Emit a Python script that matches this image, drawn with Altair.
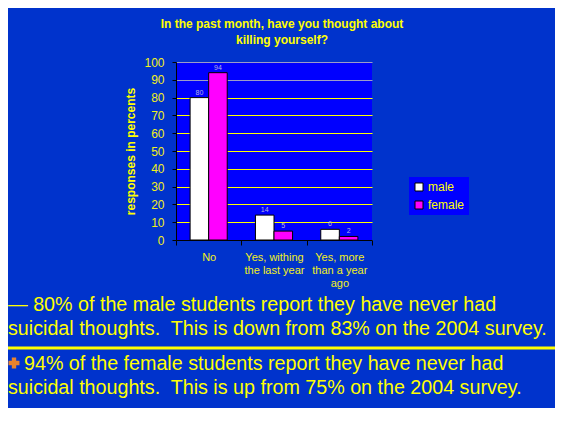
import altair as alt
import pandas as pd

# ---- data ----
categories = ["No", "Yes, withing\nthe last year", "Yes, more\nthan a year\nago"]
series = ["male", "female"]
male = [80, 14, 6]
female = [94, 5, 2]
colors = ["#ffffff", "#ff00ff"]
y_ticks = list(range(0, 101, 10))
title_text = "In the past month, have you thought about\nkilling yourself?"
y_title = "responses in percents"
note1 = "\u2014 80% of the male students report they have never had\nsuicidal thoughts.\u00a0 This is down from 83% on the 2004 survey."
note2 = "94% of the female students report they have never had\nsuicidal thoughts.\u00a0 This is up from 75% on the 2004 survey."

YELLOW = "#ffff00"
AXIS_YELLOW = "#f2f020"
FONT = "Liberation Sans"
BODY_SIZE = 19.7

rows = []
for c, m, f in zip(categories, male, female):
    rows.append({"category": c, "sex": "male", "value": m})
    rows.append({"category": c, "sex": "female", "value": f})
df = pd.DataFrame(rows)

x_enc = alt.X(
    "category:N", sort=categories,
    scale=alt.Scale(paddingInner=0, paddingOuter=0),
    axis=alt.Axis(
        title=None, labelAngle=0, labelExpr="split(datum.label, '\\n')",
        labelFont=FONT, labelFontSize=11, labelColor=AXIS_YELLOW,
        labelLineHeight=13.3, labelPadding=6, tickSize=5, tickBand="extent",
        domainColor="black", tickColor="black", grid=False,
    ),
)
xo_enc = alt.XOffset("sex:N", sort=series, scale=alt.Scale(paddingInner=0, paddingOuter=0.76))
y_enc = alt.Y(
    "value:Q", scale=alt.Scale(domain=[0, 100], nice=False),
    axis=alt.Axis(
        values=y_ticks, title=y_title, titleColor=YELLOW, titleFont=FONT,
        titleFontSize=12, titleFontWeight="bold", titlePadding=6,
        labelFont=FONT, labelFontSize=12, labelColor=AXIS_YELLOW, labelPadding=8,
        tickSize=4, tickColor="black", domainColor="black",
        grid=True, gridWidth=1,
        gridColor={"condition": {"test": "datum.value >= 90", "value": "#9c9cc8"}, "value": YELLOW},
    ),
)
color_enc = alt.Color(
    "sex:N", sort=series, scale=alt.Scale(domain=series, range=colors),
    legend=alt.Legend(
        title=None, orient="none", legendX=233, legendY=115, fillColor="#0000ff",
        padding=4, symbolType="square", symbolSize=64, symbolStrokeColor="black",
        symbolStrokeWidth=1, labelColor=YELLOW, labelFontSize=12, labelFont=FONT,
        rowPadding=6, labelOffset=3,
    ),
)

base = alt.Chart(df)
bars = base.mark_bar(stroke="black", strokeWidth=1).encode(
    x=x_enc, xOffset=xo_enc, y=y_enc, color=color_enc
)
values = base.mark_text(fontSize=7, font=FONT, color="#b4b4e0", dy=-5).encode(
    x=x_enc, xOffset=xo_enc, y=y_enc, text="value:Q"
)

one = pd.DataFrame({"t": [0]})
title = alt.Chart(one).mark_text(
    text=title_text, lineBreak="\n", lineHeight=16, font=FONT, fontSize=12,
    fontWeight="bold", color=YELLOW, align="center", baseline="alphabetic",
).encode(x=alt.value(106), y=alt.value(-34))

sep = alt.Chart(one).mark_rule(color=YELLOW, strokeWidth=3).encode(
    x=alt.value(-168), x2=alt.value(379), y=alt.value(286)
)
text1 = alt.Chart(one).mark_text(
    text=note1, lineBreak="\n", lineHeight=24, font=FONT, fontSize=BODY_SIZE,
    color=YELLOW, align="left", baseline="alphabetic",
).encode(x=alt.value(-168), y=alt.value(248.5))
text2 = alt.Chart(one).mark_text(
    text=note2.split("\n")[0], font=FONT, fontSize=BODY_SIZE,
    color=YELLOW, align="left", baseline="alphabetic",
).encode(x=alt.value(-152), y=alt.value(308))
text2b = alt.Chart(one).mark_text(
    text=note2.split("\n")[1], font=FONT, fontSize=BODY_SIZE,
    color=YELLOW, align="left", baseline="alphabetic",
).encode(x=alt.value(-168), y=alt.value(332))
bullet = alt.Chart(one).mark_point(
    shape="cross", filled=True, size=120, color="#e8832e", opacity=1
).encode(x=alt.value(-162), y=alt.value(301))

chart = alt.layer(bars, values, title, sep, text1, text2, text2b, bullet).properties(
    width=196, height=178,
    autosize=alt.AutoSizeParams(type="none"),
    padding={"left": 168, "top": 54, "right": 183, "bottom": 168},
).configure(background="#0033cc").configure_view(fill="#0000ff", stroke=None)

chart.save("out.html", embed_options={"renderer": "svg", "actions": False})
